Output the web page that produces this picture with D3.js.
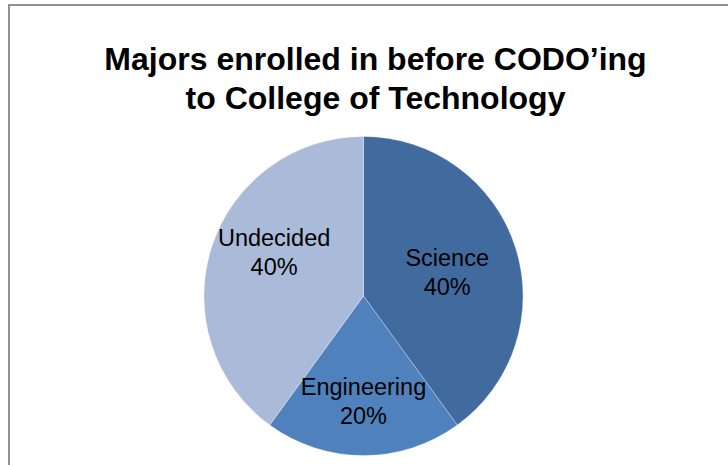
<!DOCTYPE html>
<html>
<head>
<meta charset="utf-8">
<script src="https://cdn.jsdelivr.net/npm/d3@7"></script>
<style>
  html, body { margin: 0; padding: 0; background: #fff; }
  svg { display: block; }
</style>
</head>
<body>
<script>
// Majors enrolled in before CODO'ing to College of Technology
const categories = ["Science", "Engineering", "Undecided"];
const shares = [40, 20, 40];
const titleLines = ["Majors enrolled in before CODO\u2019ing", "to College of Technology"];

const W = 728, H = 465;
const svg = d3.select("body").append("svg").attr("width", W).attr("height", H);

// chart area frame (extends past the right and bottom edges)
svg.append("rect")
  .attr("x", 9).attr("y", 5)
  .attr("width", 900).attr("height", 700)
  .attr("fill", "#fff")
  .attr("stroke", "#878787")
  .attr("stroke-width", 1.8);

// title
const title = svg.append("text")
  .attr("text-anchor", "middle")
  .attr("font-family", "Liberation Sans, Arial, sans-serif")
  .attr("font-weight", "bold")
  .attr("font-size", 32)
  .attr("fill", "#000");
titleLines.forEach((t, i) => {
  title.append("tspan").attr("x", 375.5).attr("y", 70 + i * 39).text(t);
});

// pie
const cx = 363.5, cy = 296, R = 159.5;
const color = d3.scaleOrdinal().domain(categories).range(["#416B9F", "#4F81BD", "#AABBD9"]);
const data = categories.map((c, i) => ({ name: c, value: shares[i] }));
const pie = d3.pie().value(d => d.value).sort(null);
const arc = d3.arc().innerRadius(0).outerRadius(R);
const arcs = pie(data);

const g = svg.append("g").attr("transform", `translate(${cx},${cy})`);
g.selectAll("path.slice")
  .data(arcs)
  .enter().append("path")
  .attr("class", "slice")
  .attr("d", arc)
  .attr("fill", d => color(d.data.name))
  .attr("stroke", "rgba(255,255,255,0.45)")
  .attr("stroke-width", 0.6);

// data labels: category name and percent, placed inside each slice
const labelRadius = { Science: 88, Engineering: 106, Undecided: 94 };
const labelNudge = { Science: [0, 3], Engineering: [0, -1], Undecided: [0, -15] };
const total = d3.sum(shares);
const labels = g.selectAll("text.lbl")
  .data(arcs)
  .enter().append("text")
  .attr("class", "lbl")
  .attr("text-anchor", "middle")
  .attr("font-family", "Liberation Sans, Arial, sans-serif")
  .attr("font-size", 23.5)
  .attr("fill", "#000")
  .attr("transform", d => {
    const a = (d.startAngle + d.endAngle) / 2;
    const r = labelRadius[d.data.name];
    const n = labelNudge[d.data.name];
    return `translate(${Math.sin(a) * r + n[0]},${-Math.cos(a) * r + n[1]})`;
  });
labels.append("tspan").attr("x", 0).attr("y", -6).text(d => d.data.name);
labels.append("tspan").attr("x", 0).attr("y", 23)
  .text(d => Math.round(d.data.value / total * 100) + "%");
</script>
</body>
</html>
